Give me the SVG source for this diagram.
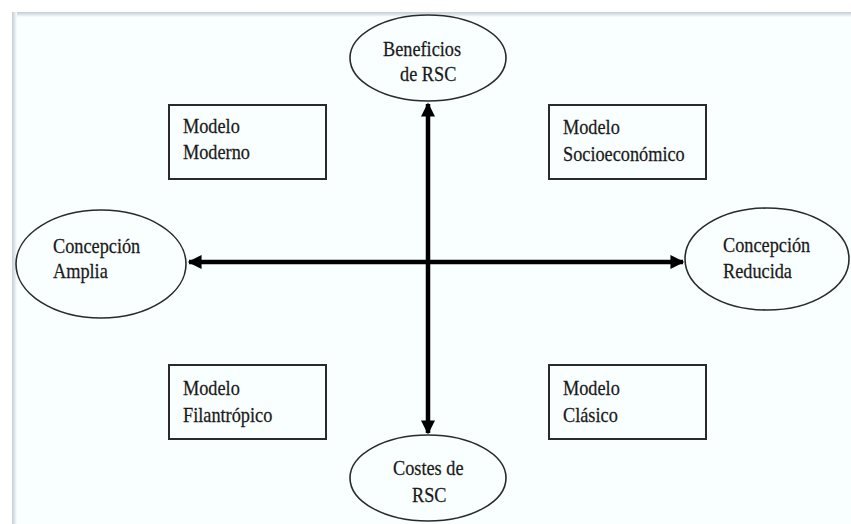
<svg xmlns="http://www.w3.org/2000/svg" width="851" height="524" viewBox="0 0 851 524">
<style>
.t{font-family:"Liberation Serif","Times New Roman",serif;font-size:21px;fill:#1a1a1a;stroke:#1a1a1a;stroke-width:0.25}
.e{fill:#f9fefe;stroke:#2a2a2a;stroke-width:1.6}
.b{fill:#f9fefe;stroke:#2a2a2a;stroke-width:2}
.c{stroke:#000;stroke-width:4.5;fill:none}
</style>
<defs>
<marker id="ah" viewBox="0 0 10 10" refX="9" refY="5" markerWidth="3.3" markerHeight="3.1" orient="auto-start-reverse" markerUnits="strokeWidth">
<path d="M0,0 L10,5 L0,10 z" fill="#000"/>
</marker>
<linearGradient id="gt" x1="0" y1="0" x2="0" y2="1"><stop offset="0" stop-color="#c3ccd4"/><stop offset="1" stop-color="#f9fefe"/></linearGradient>
<linearGradient id="gl" x1="0" y1="0" x2="1" y2="0"><stop offset="0" stop-color="#c3ccd4"/><stop offset="1" stop-color="#f9fefe"/></linearGradient>
</defs>
<rect width="851" height="524" fill="#ffffff"/>
<rect x="12" y="12" width="839" height="512" fill="#f9fefe"/>
<rect x="12" y="12" width="839" height="5" fill="url(#gt)"/>
<rect x="12" y="12" width="5" height="512" fill="url(#gl)"/>
<g id="connectors">
<line class="c" x1="428" y1="262" x2="428" y2="104" marker-end="url(#ah)"/>
<line class="c" x1="428" y1="262" x2="428" y2="433" marker-end="url(#ah)"/>
<line class="c" x1="428" y1="262" x2="189" y2="262" marker-end="url(#ah)"/>
<line class="c" x1="428" y1="262" x2="683" y2="262" marker-end="url(#ah)"/>
</g>
<g id="beneficios">
<ellipse class="e" cx="428" cy="58" rx="78" ry="43"/>
<text class="t" transform="translate(383,56) scale(0.87,1)">Beneficios</text>
<text class="t" transform="translate(400,81) scale(0.87,1)">de RSC</text>
</g>
<g id="costes">
<ellipse class="e" cx="428" cy="478" rx="78" ry="43"/>
<text class="t" transform="translate(393,475) scale(0.87,1)">Costes de</text>
<text class="t" transform="translate(412,502) scale(0.87,1)">RSC</text>
</g>
<g id="amplia">
<ellipse class="e" cx="101" cy="264" rx="85" ry="54"/>
<text class="t" transform="translate(53,253) scale(0.87,1)">Concepción</text>
<text class="t" transform="translate(53,278) scale(0.87,1)">Amplia</text>
</g>
<g id="reducida">
<ellipse class="e" cx="767" cy="259" rx="82" ry="51"/>
<text class="t" transform="translate(723,252) scale(0.87,1)">Concepción</text>
<text class="t" transform="translate(723,278) scale(0.87,1)">Reducida</text>
</g>
<g id="moderno">
<rect class="b" x="169" y="105" width="157" height="74"/>
<text class="t" transform="translate(183,133) scale(0.87,1)">Modelo</text>
<text class="t" transform="translate(183,159) scale(0.87,1)">Moderno</text>
</g>
<g id="socioeconomico">
<rect class="b" x="549" y="105" width="157" height="74"/>
<text class="t" transform="translate(563,134) scale(0.87,1)">Modelo</text>
<text class="t" transform="translate(563,161) scale(0.87,1)">Socioeconómico</text>
</g>
<g id="filantropico">
<rect class="b" x="169" y="365" width="157" height="74"/>
<text class="t" transform="translate(183,395) scale(0.87,1)">Modelo</text>
<text class="t" transform="translate(183,422) scale(0.87,1)">Filantrópico</text>
</g>
<g id="clasico">
<rect class="b" x="549" y="365" width="157" height="74"/>
<text class="t" transform="translate(563,395) scale(0.87,1)">Modelo</text>
<text class="t" transform="translate(563,422) scale(0.87,1)">Clásico</text>
</g>
</svg>
